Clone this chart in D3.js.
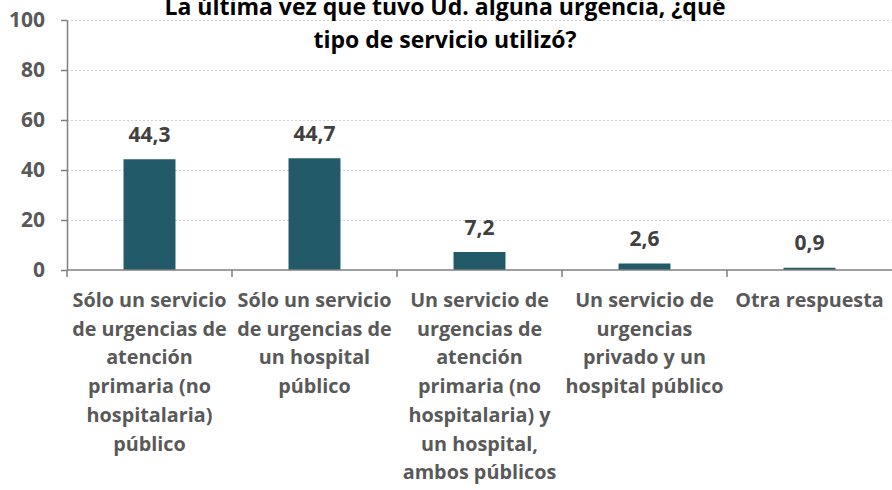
<!DOCTYPE html>
<html>
<head>
<meta charset="utf-8">
<script src="https://cdnjs.cloudflare.com/ajax/libs/d3/7.8.5/d3.min.js"></script>
<style>
  body { margin: 0; background: #fff; }
  svg { display: block; font-family: "Open Sans", sans-serif; font-weight: bold; }
</style>
</head>
<body>
<svg id="chart" width="892" height="490"></svg>
<script>
// data
var categories = [
    "Sólo un servicio|de urgencias de|atención|primaria (no|hospitalaria)|público",
    "Sólo un servicio|de urgencias de|un hospital|público",
    "Un servicio de|urgencias de|atención|primaria (no|hospitalaria) y|un hospital,|ambos públicos",
    "Un servicio de|urgencias|privado y un|hospital público",
    "Otra respuesta"
];
var values = [44.3, 44.7, 7.2, 2.6, 0.9];
var yTicks = [0, 20, 40, 60, 80, 100];
var titleLines = ["La última vez que tuvo Ud. alguna urgencia, ¿qué", "tipo de servicio utilizó?"];

var svg = d3.select("#chart"),
    width = +svg.attr("width"),
    height = +svg.attr("height");

var margin = {left: 67, right: 0, top: 20, bottom: 220};

var x = d3.scaleBand()
    .domain(d3.range(categories.length))
    .range([margin.left, width - margin.right])
    .paddingInner(0)
    .paddingOuter(0);

var y = d3.scaleLinear()
    .domain([0, 100])
    .range([height - margin.bottom, margin.top]);

var barW = x.bandwidth() * 0.315;

// gridlines
svg.append("g")
    .selectAll("line")
    .data(yTicks.filter(function(d) { return d > 0; }))
    .enter().append("line")
    .attr("x1", margin.left)
    .attr("x2", width - margin.right)
    .attr("y1", function(d) { return y(d) + 0.5; })
    .attr("y2", function(d) { return y(d) + 0.5; })
    .attr("stroke", "#d0d0d0")
    .attr("stroke-width", 1)
    .attr("stroke-dasharray", "2,2");

// bars
svg.append("g")
    .selectAll("rect")
    .data(values)
    .enter().append("rect")
    .attr("x", function(d, i) { return x(i) + x.bandwidth() / 2 - barW / 2; })
    .attr("y", function(d) { return y(d); })
    .attr("width", barW)
    .attr("height", function(d) { return y(0) - y(d); })
    .attr("fill", "#235a69");

// value labels
svg.append("g")
    .selectAll("text")
    .data(values)
    .enter().append("text")
    .attr("x", function(d, i) { return x(i) + x.bandwidth() / 2; })
    .attr("y", function(d) { return y(d) - 17.5; })
    .attr("text-anchor", "middle")
    .attr("font-size", "21px")
    .attr("fill", "#404040")
    .text(function(d) { return d3.format(".1f")(d).replace(".", ","); });

// y axis
var yAxis = svg.append("g")
    .attr("transform", "translate(" + margin.left + ",0)")
    .call(d3.axisLeft(y).tickValues(yTicks).tickSize(6).tickPadding(16).tickSizeOuter(0));
yAxis.select(".domain").attr("stroke", "#7f7f7f").attr("stroke-width", 1.5);
yAxis.selectAll(".tick line").attr("stroke", "#7f7f7f").attr("stroke-width", 1.5);
yAxis.selectAll("text")
    .attr("font-size", "21px")
    .attr("font-family", "'Open Sans', sans-serif")
    .attr("font-weight", "bold")
    .attr("fill", "#595959");

// x axis line and ticks between categories
var xAxisG = svg.append("g");
xAxisG.append("line")
    .attr("x1", margin.left)
    .attr("x2", width - margin.right)
    .attr("y1", y(0))
    .attr("y2", y(0))
    .attr("stroke", "#7f7f7f")
    .attr("stroke-width", 1.5);
xAxisG.selectAll("line.tk")
    .data(d3.range(categories.length))
    .enter().append("line")
    .attr("class", "tk")
    .attr("x1", function(i) { return x(i); })
    .attr("x2", function(i) { return x(i); })
    .attr("y1", y(0))
    .attr("y2", y(0) + 7)
    .attr("stroke", "#7f7f7f")
    .attr("stroke-width", 1.5);

// category labels
var catLabels = svg.append("g")
    .selectAll("text")
    .data(categories)
    .enter().append("text")
    .attr("text-anchor", "middle")
    .attr("font-size", "19.8px")
    .attr("fill", "#595959");
catLabels.each(function(d, i) {
    var t = d3.select(this);
    d.split("|").forEach(function(line, j) {
        t.append("tspan")
            .attr("x", x(i) + x.bandwidth() / 2)
            .attr("y", 307 + j * 28.7)
            .text(line);
    });
});

// title
svg.append("g")
    .selectAll("text")
    .data(titleLines)
    .enter().append("text")
    .attr("x", 445)
    .attr("y", function(d, i) { return 15 + i * 33; })
    .attr("text-anchor", "middle")
    .attr("font-size", "23px")
    .attr("fill", "#000")
    .text(function(d) { return d; });
</script>
</body>
</html>
